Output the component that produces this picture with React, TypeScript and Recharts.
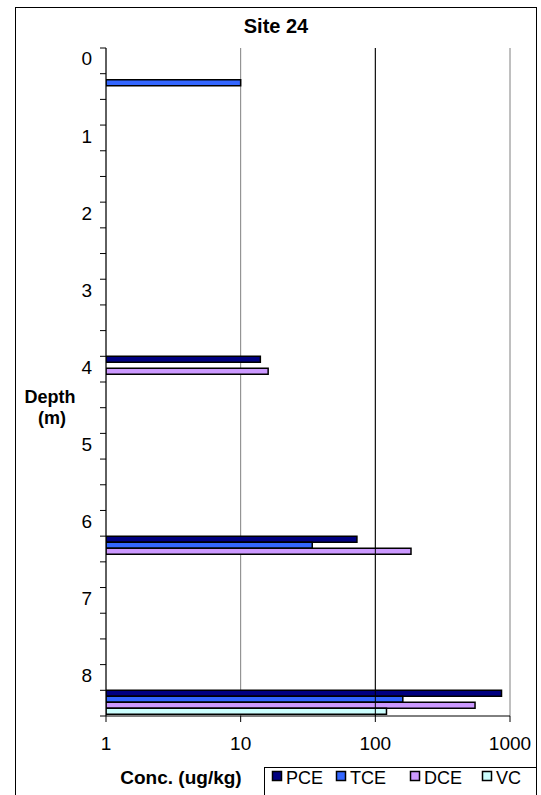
import { BarChart, Bar, XAxis, YAxis, CartesianGrid, ReferenceLine } from 'recharts';

const FONT = 'Arial, "Liberation Sans", sans-serif';

// depth categories (m), labelled every whole metre
const depths = [0, 0.33, 0.67, 1, 1.33, 1.67, 2, 2.33, 2.67, 3, 3.33, 3.67, 4, 4.33, 4.67, 5, 5.33, 5.67, 6, 6.33, 6.67, 7, 7.33, 7.67, 8, 8.33];

// concentrations (ug/kg), one per depth
const pce = [null, null, null, null, null, null, null, null, null, null, null, null, 14, null, null, null, null, null, null, 73, null, null, null, null, null, 865];
const tce = [null, 10, null, null, null, null, null, null, null, null, null, null, null, null, null, null, null, null, null, 34, null, null, null, null, null, 160];
const dce = [null, null, null, null, null, null, null, null, null, null, null, null, 16, null, null, null, null, null, null, 184, null, null, null, null, null, 550];
const vc = [null, null, null, null, null, null, null, null, null, null, null, null, null, null, null, null, null, null, null, null, null, null, null, null, null, 121];

const seriesNames = ['PCE', 'TCE', 'DCE', 'VC'];
const seriesColors = ['#000080', '#3366FF', '#CC99FF', '#CCFFFF'];
const xTicks = [1, 10, 100, 1000];

const rows = depths.map((d, i) => ({ depth: d, PCE: pce[i], TCE: tce[i], DCE: dce[i], VC: vc[i] }));

const PLOT_TOP = 48;
const PLOT_BOTTOM = 716;
const BAND = (PLOT_BOTTOM - PLOT_TOP) / depths.length;

const legendX = [272, 336, 410, 482];

function DepthTick(props: any) {
    const { x, y, payload, index } = props;
    const half = BAND / 2;
    return (
        <g>
            <line x1={x - 6} x2={x} y1={y - half} y2={y - half} stroke="#000" />
            {index === depths.length - 1 && (
                <line x1={x - 6} x2={x} y1={y + half} y2={y + half} stroke="#000" />
            )}
            {Number.isInteger(payload.value) && (
                <text x={x - 14} y={y - 2} dy="0.35em" textAnchor="end" fontSize={19} fontFamily={FONT} fill="#000">
                    {payload.value}
                </text>
            )}
        </g>
    );
}

export default function App() {
    return (
        <div style={{ position: 'absolute', left: 0, top: 0, width: 541, height: 795, overflow: 'hidden', background: '#fff' }}>
            <div style={{ position: 'absolute', left: 0, top: 0 }}>
                <BarChart
                    width={541}
                    height={795}
                    data={rows}
                    layout="vertical"
                    margin={{ top: PLOT_TOP, right: 31, bottom: 39, left: 46 }}
                    barCategoryGap={0}
                    barGap={0}
                >
                    <CartesianGrid horizontal={false} stroke="#808080" />
                    <XAxis
                        type="number"
                        scale="log"
                        domain={[1, 1000]}
                        ticks={xTicks}
                        allowDataOverflow
                        height={40}
                        tickSize={6}
                        tickMargin={15}
                        tick={{ fill: '#000', fontSize: 19, fontFamily: FONT }}
                        axisLine={{ stroke: '#000' }}
                        tickLine={{ stroke: '#000' }}
                    />
                    <XAxis
                        xAxisId="top"
                        orientation="top"
                        type="number"
                        scale="log"
                        domain={[1, 1000]}
                        allowDataOverflow
                        height={0}
                        tick={false}
                        tickLine={false}
                        axisLine={{ stroke: '#808080' }}
                    />
                    <YAxis
                        type="category"
                        dataKey="depth"
                        width={60}
                        interval={0}
                        tickSize={0}
                        tickMargin={0}
                        tickLine={false}
                        tick={<DepthTick />}
                        axisLine={{ stroke: '#000' }}
                    />
                    <ReferenceLine x={100} stroke="#000" />
                    {seriesNames.map((name, i) => (
                        <Bar
                            key={name}
                            dataKey={name}
                            fill={seriesColors[i]}
                            stroke="#000"
                            strokeWidth={1.5}
                            isAnimationActive={false}
                        />
                    ))}
                </BarChart>
            </div>
            <svg width={541} height={795} style={{ position: 'absolute', left: 0, top: 0, pointerEvents: 'none' }}>
                <rect x={15.5} y={7.5} width={521} height={800} fill="none" stroke="#000" />
                <text x={276} y={33} textAnchor="middle" fontSize={20} fontWeight="bold" fontFamily={FONT} fill="#000">
                    Site 24
                </text>
                <text x={50} y={403} textAnchor="middle" fontSize={18} fontWeight="bold" fontFamily={FONT} fill="#000">
                    Depth
                </text>
                <text x={52} y={424} textAnchor="middle" fontSize={18} fontWeight="bold" fontFamily={FONT} fill="#000">
                    (m)
                </text>
                <text x={181} y={784} textAnchor="middle" fontSize={19} fontWeight="bold" fontFamily={FONT} fill="#000">
                    Conc. (ug/kg)
                </text>
                <rect x={264.5} y={767.5} width={272} height={40} fill="#fff" stroke="#000" />
                {seriesNames.map((name, i) => (
                    <g key={name}>
                        <rect x={legendX[i] + 0.5} y={771.5} width={9} height={9} fill={seriesColors[i]} stroke="#000" strokeWidth={1.5} />
                        <text x={legendX[i] + 14} y={784} fontSize={18} fontFamily={FONT} fill="#000">
                            {name}
                        </text>
                    </g>
                ))}
            </svg>
        </div>
    );
}
